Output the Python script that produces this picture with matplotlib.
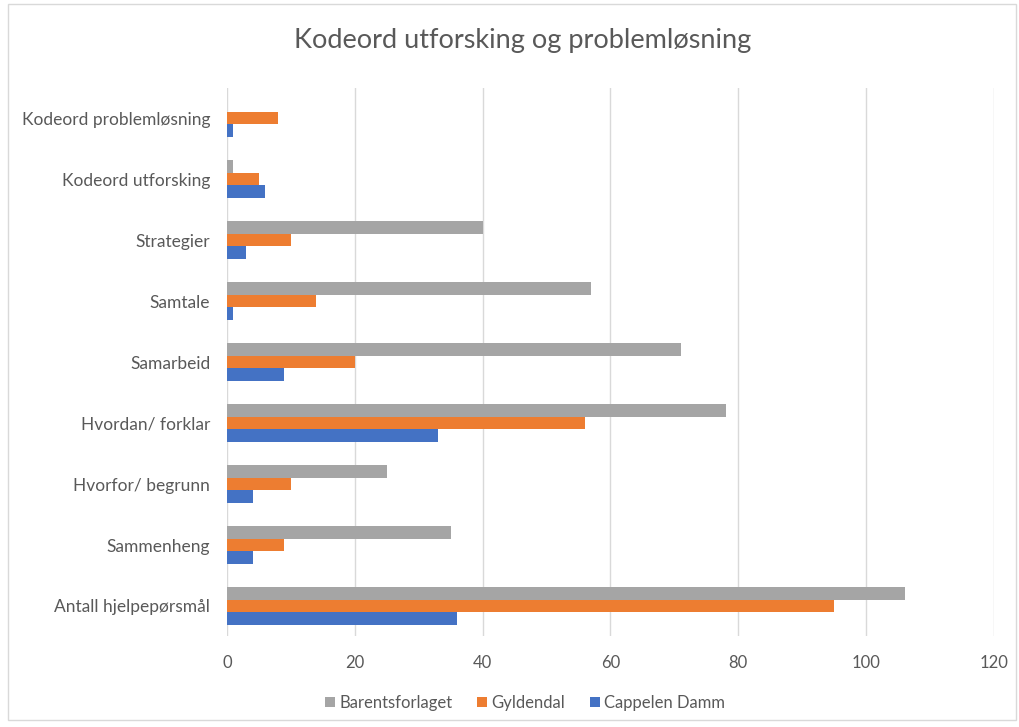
import numpy as np
import matplotlib.pyplot as plt
from matplotlib.patches import Rectangle

plt.rcParams['font.family'] = ['Lato', 'DejaVu Sans']

kategorier = ['Antall hjelpepørsmål', 'Sammenheng', 'Hvorfor/ begrunn', 'Hvordan/ forklar',
              'Samarbeid', 'Samtale', 'Strategier', 'Kodeord utforsking', 'Kodeord problemløsning']
barentsforlaget = [106, 35, 25, 78, 71, 57, 40, 1, 0]
gyldendal = [95, 9, 10, 56, 20, 14, 10, 5, 8]
cappelen_damm = [36, 4, 4, 33, 9, 1, 3, 6, 1]

tekst = '#595959'
fig = plt.figure(figsize=(10.2, 7.27), dpi=100)
ax = fig.add_axes([0.2225, 0.1245, 0.752, 0.755])

y = np.arange(len(kategorier))
h = 0.205
ax.barh(y + h, barentsforlaget, height=h, color='#A5A5A5', label='Barentsforlaget', zorder=3)
ax.barh(y, gyldendal, height=h, color='#ED7D31', label='Gyldendal', zorder=3)
ax.barh(y - h, cappelen_damm, height=h, color='#4472C4', label='Cappelen Damm', zorder=3)

ax.set_xlim(0, 120)
ax.set_ylim(-0.5, len(kategorier) - 0.5)
ax.set_xticks(range(0, 121, 20))
ax.set_yticks(y)
ax.set_yticklabels(kategorier)
ax.tick_params(length=0, labelcolor=tekst)
ax.tick_params(axis='x', pad=13, labelsize=12)
ax.tick_params(axis='y', pad=12, labelsize=12.5)
ax.grid(axis='x', color='#D9D9D9', linewidth=1, zorder=0)
for s in ax.spines.values():
    s.set_visible(False)

fig.suptitle('Kodeord utforsking og problemløsning', x=0.512, y=0.962, fontsize=19.5, color=tekst)
fig.legend(loc='center', bbox_to_anchor=(0.515, 0.033), ncol=3, frameon=False,
           fontsize=12, labelcolor=tekst, handlelength=0.6, handleheight=0.6,
           handletextpad=0.25, columnspacing=1.5)

fig.patches.append(Rectangle((0.008, 0.01), 0.988, 0.985, transform=fig.transFigure,
                             fill=False, edgecolor='#D9D9D9', linewidth=1))

plt.savefig('out.png')
